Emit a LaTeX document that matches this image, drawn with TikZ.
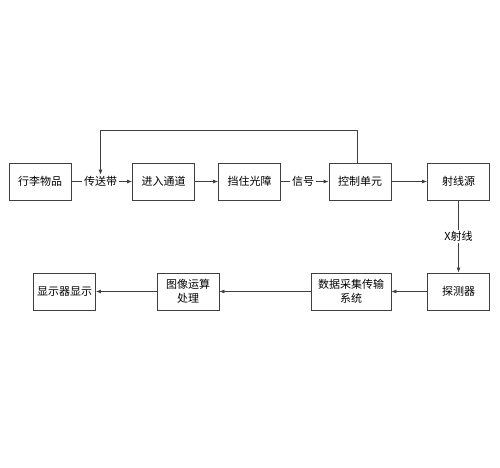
\documentclass[tikz,border=0pt]{standalone}
\usepackage{fontspec}
\setmainfont{Noto Sans CJK SC}
\usetikzlibrary{arrows.meta,positioning}
\tikzset{
box/.style={
	draw=black!75, line width=0.8pt, minimum width=62pt,
	minimum height=37pt, inner sep=2pt, align=center,
	font=\fontsize{11}{14.5}\selectfont},
tag/.style={inner sep=1.5pt, font=\fontsize{11}{14.5}\selectfont},
flow/.style={draw=black!75, line width=0.8pt, -{Latex[length=5pt,width=4pt]}},
link/.style={draw=black!75, line width=0.8pt}
}

\begin{document}
\begin{tikzpicture}[x=1pt, y=-1pt]
	\useasboundingbox (0,0) rectangle (500,467);
	% top row
	\node[box] (item) at (40,181.5) {行李物品};
	\node[tag] (belt) at (100.5,181.5) {传送带};
	\node[box] (entry) at (163.5,181.5) {进入通道};
	\node[box] (block) at (249.5,181.5) {挡住光障};
	\node[tag] (signal) at (303,181.5) {信号};
	\node[box] (ctrl) at (360,181.5) {控制单元};
	\node[box] (source) at (458.5,181.5) {射线源};
	% bottom row
	\node[box] (detect) at (458.5,291.5) {探测器};
	\node[box, minimum width=80pt] (daq) at (351,291.5) {数据采集传输\\系统};
	\node[box] (proc) at (188,291.5) {图像运算\\处理};
	\node[box] (show) at (64.5,291.5) {显示器显示};

	\draw[link] (item) -- (belt);
	\draw[flow] (belt) -- (entry);
	\draw[flow] (entry) -- (block);
	\draw[link] (block) -- (signal);
	\draw[flow] (signal) -- (ctrl);
	\draw[flow] (ctrl) -- (source);
	\draw[flow] ([xshift=-3pt]ctrl.north) -- ++(0,-32) -| (belt.north);
	\draw[flow] (source) -- node[tag, fill=white] {X射线} (detect);
	\draw[flow] (detect) -- (daq);
	\draw[flow] (daq) -- (proc);
	\draw[flow] (proc) -- (show);
\end{tikzpicture}
\end{document}
